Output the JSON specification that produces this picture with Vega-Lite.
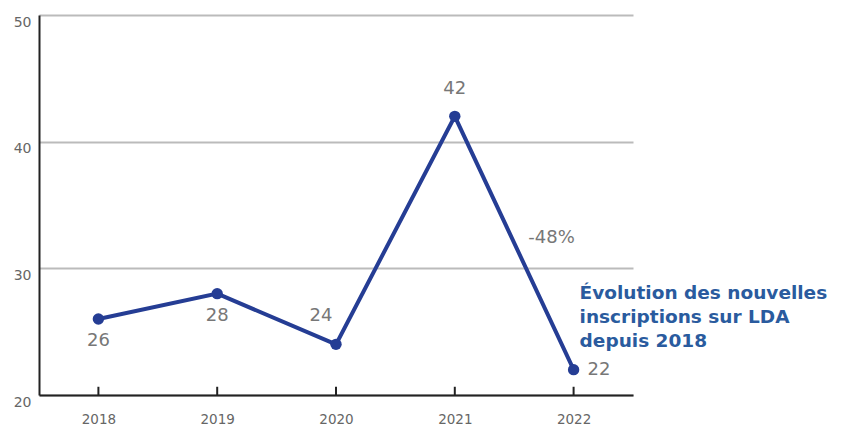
{
  "$schema": "https://vega.github.io/schema/vega-lite/v6.json",
  "width": 594,
  "height": 380,
  "autosize": {"type": "none"},
  "padding": {"left": 39, "top": 15, "right": 212, "bottom": 33},
  "background": "white",
  "config": {
    "view": {"stroke": null},
    "font": "DejaVu Sans"
  },
  "data": {
    "values": [
      {"year": "2018", "value": 26},
      {"year": "2019", "value": 28},
      {"year": "2020", "value": 24},
      {"year": "2021", "value": 42},
      {"year": "2022", "value": 22}
    ]
  },
  "encoding": {
    "x": {
      "field": "year",
      "type": "ordinal",
      "scale": {"type": "point", "padding": 0.5},
      "axis": {
        "title": null,
        "labelAngle": 0,
        "domainColor": "#222222",
        "domainWidth": 2,
        "ticks": false,
        "labelPadding": 17,
        "labelColor": "#666666",
        "labelFontSize": 13.5,
        "grid": false
      }
    },
    "y": {
      "field": "value",
      "type": "quantitative",
      "scale": {"domain": [20, 50], "nice": false, "zero": false},
      "axis": {
        "title": null,
        "values": [20, 30, 40, 50],
        "ticks": false,
        "domainColor": "#222222",
        "domainWidth": 2,
        "labelPadding": 8,
        "labelColor": "#666666",
        "labelFontSize": 14,
        "labelBaseline": "top",
        "grid": true,
        "gridColor": "#bbbbbb",
        "gridWidth": 2
      }
    }
  },
  "layer": [
    {
      "mark": {"type": "rule", "color": "#222222", "strokeWidth": 2},
      "encoding": {
        "y": {"datum": 20, "type": "quantitative"},
        "y2": {"datum": 20.65}
      }
    },
    {
      "mark": {"type": "line", "color": "#253d94", "strokeWidth": 4}
    },
    {
      "mark": {"type": "point", "filled": true, "color": "#253d94", "opacity": 1, "size": 130}
    },
    {
      "transform": [{"filter": "datum.year === '2018' || datum.year === '2019'"}],
      "mark": {"type": "text", "dy": 22, "fontSize": 18, "color": "#777777"},
      "encoding": {"text": {"field": "value"}}
    },
    {
      "transform": [{"filter": "datum.year === '2020'"}],
      "mark": {"type": "text", "dx": -15, "dy": -28, "fontSize": 18, "color": "#777777"},
      "encoding": {"text": {"field": "value"}}
    },
    {
      "transform": [{"filter": "datum.year === '2021'"}],
      "mark": {"type": "text", "dy": -27, "fontSize": 18, "color": "#777777"},
      "encoding": {"text": {"field": "value"}}
    },
    {
      "transform": [{"filter": "datum.year === '2022'"}],
      "mark": {"type": "text", "align": "left", "dx": 14, "fontSize": 18, "color": "#777777"},
      "encoding": {"text": {"field": "value"}}
    },
    {
      "data": {"values": [{"year": "2022", "value": 32.4, "label": "-48%"}]},
      "mark": {"type": "text", "dx": -22, "fontSize": 18, "color": "#777777"},
      "encoding": {"text": {"field": "label"}}
    },
    {
      "data": {"values": [{"year": "2022", "value": 28.05, "label": ["Évolution des nouvelles", "inscriptions sur LDA", "depuis 2018"]}]},
      "mark": {"type": "text", "align": "left", "baseline": "middle", "dx": 6, "fontSize": 18.5, "fontWeight": "bold", "lineHeight": 24, "color": "#2a5b9e"},
      "encoding": {"text": {"field": "label"}}
    }
  ]
}
